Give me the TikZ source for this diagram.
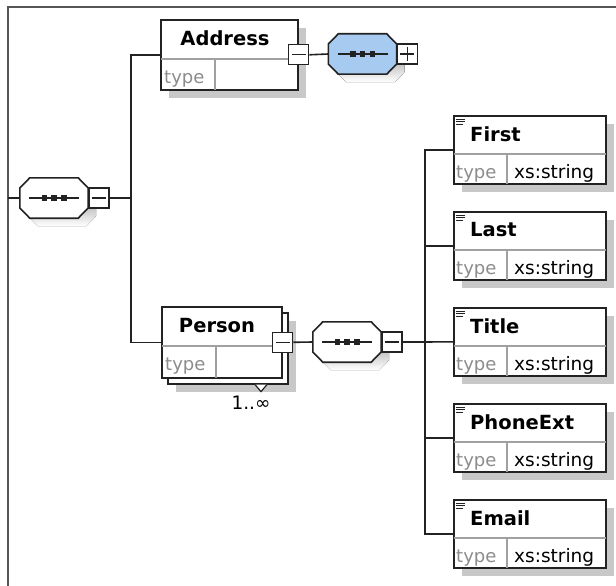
\documentclass[tikz,border=0pt]{standalone}
\usepackage{fontspec}
\setmainfont{DejaVu Sans}
\usetikzlibrary{shadows,calc}

\definecolor{boxline}{HTML}{222222}
\definecolor{sepgray}{HTML}{A0A0A0}
\definecolor{typegray}{HTML}{8C8C8C}
\definecolor{shade}{HTML}{C8C8C8}
\definecolor{seqblue}{HTML}{A6CAF0}
\definecolor{framegray}{HTML}{555555}

\tikzset{
  shadowed/.style={drop shadow={shadow xshift=8pt,shadow yshift=-8pt,fill=shade,opacity=1}},
  elembox/.style={rectangle,draw=boxline,line width=1.6pt,fill=white,inner sep=0pt,anchor=north west},
  sepline/.style={draw=sepgray,line width=1.2pt},
  titletext/.style={font=\fontsize{19.5}{23}\selectfont\bfseries,inner sep=0pt},
  typetext/.style={font=\fontsize{18}{21}\selectfont,text=typegray,inner sep=0pt},
  valtext/.style={font=\fontsize{18.5}{21}\selectfont,inner sep=0pt},
  seq/.style={rectangle,minimum width=68pt,minimum height=40pt,inner sep=0pt},
  toggle/.style={rectangle,draw=boxline,line width=1.4pt,fill=white,minimum size=20pt,inner sep=0pt,anchor=west},
  conn/.style={draw=boxline,line width=1.6pt}
}

% octagon round a sequence node, shifted by #2
\def\octpath#1#2{($(#1.west)+(#2,#2-10)$) -- ($(#1.north west)+(#2+10,#2)$) -- ($(#1.north east)+(#2-10,#2)$)
  -- ($(#1.east)+(#2,#2-10)$) -- ($(#1.east)+(#2,#2+10)$) -- ($(#1.south east)+(#2-10,#2)$)
  -- ($(#1.south west)+(#2+10,#2)$) -- ($(#1.west)+(#2,#2+10)$) -- cycle}
% sequence compositor: octagon, line with three dots
\def\seqmark#1#2{%
  \fill[shade] \octpath{#1}{8};
  \filldraw[fill=#2,draw=boxline,line width=1.6pt] \octpath{#1}{0};
  \draw[boxline,line width=1.4pt] ($(#1.center)+(-25,0)$) -- ($(#1.center)+(25,0)$);
  \fill[boxline] ($(#1.center)+(-12.5,-2.7)$) rectangle ++(5.5,5.5);
  \fill[boxline] ($(#1.center)+(-2.7,-2.7)$) rectangle ++(5.5,5.5);
  \fill[boxline] ($(#1.center)+(7,-2.7)$) rectangle ++(5.5,5.5);
}
\def\minusmark#1{\draw[boxline,line width=1.4pt] ($(#1.center)+(-7,0)$) -- ($(#1.center)+(7,0)$);}
\def\plusmark#1{\minusmark{#1}\draw[boxline,line width=1.4pt] ($(#1.center)+(0,-7)$) -- ($(#1.center)+(0,7)$);}

% simple typed child element
\def\child#1#2#3{%
  \node [elembox,shadowed,minimum width=152pt,minimum height=68pt] at (453,#2) (#1) {};
  \draw[sepline] ($(#1.north west)+(0.8,39)$) -- ($(#1.north east)+(-0.8,39)$);
  \draw[sepline] ($(#1.north west)+(54,39)$) -- ($(#1.south west)+(54,-0.8)$);
  \draw[boxline,line width=1pt] ($(#1.north west)+(3,4)$) -- ++(9,0) ($(#1.north west)+(3,6.5)$) -- ++(9,0) ($(#1.north west)+(3,9)$) -- ++(7,0);
  \node [titletext,anchor=west] at ($(#1.north west)+(17,19)$) (#1 title) {#3};
  \node [typetext,anchor=base west] at ($(#1.south west)+(3,-6.5)$) (#1 type) {type};
  \node [valtext,anchor=base west] at ($(#1.south west)+(61,-6.5)$) (#1 value) {xs:string};
}

\begin{document}
\begin{tikzpicture}[x=1pt,y=-1pt]
\useasboundingbox (0,0) rectangle (616,586);
\draw[framegray,line width=2.5pt] (8,586) -- (8,7) -- (616,7);
%
% root sequence
\node [seq] at (54,198) (rootseq) {};
\seqmark{rootseq}{white}
\node [toggle] at (rootseq.east) (rootminus) {};
\minusmark{rootminus}
\coordinate (framein) at (8,198);
\coordinate (rootfork) at (131,198);
%
% Address
\node [elembox,shadowed,minimum width=137pt,minimum height=70pt] at (160,19) (address) {};
\draw[sepline] ($(address.north west)+(0.8,40)$) -- ($(address.north east)+(-0.8,40)$);
\draw[sepline] ($(address.north west)+(55,40)$) -- ($(address.south west)+(55,-0.8)$);
\node [titletext] at (225,38) (address title) {Address};
\node [typetext,anchor=base west] at ($(address.south west)+(4,-7)$) (address type) {type};
\node [toggle,anchor=center] at (address.east) (addrminus) {};
\minusmark{addrminus}
\node [seq] at (362.5,54) (addrseq) {};
\seqmark{addrseq}{seqblue}
\node [toggle] at (addrseq.east) (addrplus) {};
\plusmark{addrplus}
%
% Person (1..unbounded)
\node [elembox,shadowed,minimum width=120pt,minimum height=71pt] at (167,312) (person back) {};
\draw[boxline,line width=1.2pt,fill=white] ($(person back.south west)+(88,0)$) -- ++(6,7) -- ++(6,-7);
\node [elembox,minimum width=120pt,minimum height=71pt] at (161,306) (person) {};
\draw[sepline] ($(person.north west)+(0.8,40)$) -- ($(person.north east)+(-0.8,40)$);
\draw[sepline] ($(person.north west)+(55,40)$) -- ($(person.south west)+(55,-0.8)$);
\node [titletext] at (217,325.5) (person title) {Person};
\node [typetext,anchor=base west] at ($(person.south west)+(4,-8)$) (person type) {type};
\node [font=\fontsize{18.5}{21}\selectfont,inner sep=0pt] at (251,403) (person occ) {1..∞};
\node [toggle,anchor=center] at (person.east) (personminus) {};
\minusmark{personminus}
\node [seq] at (347,342) (personseq) {};
\seqmark{personseq}{white}
\node [toggle] at (personseq.east) (seqminus) {};
\minusmark{seqminus}
\coordinate (childfork) at (425,342);
%
% children of Person
\child{first}{115}{First}
\child{last}{211}{Last}
\child{title}{307}{Title}
\child{phoneext}{403}{PhoneExt}
\child{email}{499}{Email}
%
\path[conn] (framein) -- (rootseq.west);
\path[conn] (rootminus.east) -- (rootfork);
\path[conn] (address.west) -| (rootfork) |- (person.west);
\path[conn] (addrminus.east) -- (addrseq.west);
\path[conn] (personminus.east) -- (personseq.west);
\path[conn] (seqminus.east) -- (childfork);
\path[conn] (first.west) -| (childfork);
\path[conn] (last.west) -| (childfork);
\path[conn] (title.west) -- (childfork);
\path[conn] (phoneext.west) -| (childfork);
\path[conn] (email.west) -| (childfork);

\end{tikzpicture}
\end{document}
